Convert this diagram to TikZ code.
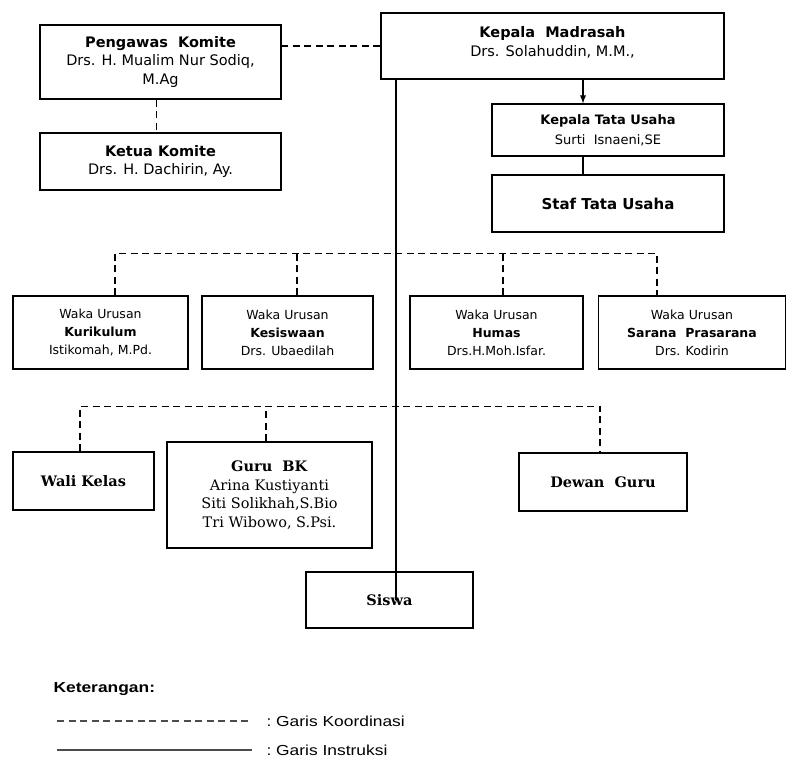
\documentclass[tikz,border=0pt]{standalone}
\usepackage{fontspec}
\setmainfont{DejaVu Sans}
\newfontfamily\serifbox{DejaVu Serif}
\newfontfamily\legendfont[FakeStretch=1.2]{Liberation Sans}
\usetikzlibrary{calc,arrows}

\begin{document}
\begin{tikzpicture}[x=1pt,y=-1pt,
  box/.style={draw,line width=1.3pt,align=center,inner sep=2pt},
  sans/.style={font=\fontsize{14.5}{18.5}\selectfont},
  waka/.style={font=\fontsize{12.5}{18}\selectfont},
  serif/.style={font=\serifbox\fontsize{14.5}{18.5}\selectfont},
  koord/.style={line width=1.4pt,dash pattern=on 7pt off 4.5pt},
  instr/.style={line width=1.5pt}]
  \useasboundingbox (0,0) rectangle (787,762);
  % atas
  \node[box,sans,minimum width=241pt,minimum height=74pt](pengawas)at(160.5,62)
    {\textbf{Pengawas\ \ Komite}\\Drs. H. Mualim Nur Sodiq,\\M.Ag};
  \node[box,sans,minimum width=241pt,minimum height=57pt](ketua)at(160.5,161.5)
    {\textbf{Ketua Komite}\\Drs. H. Dachirin, Ay.};
  \node[box,sans,minimum width=343pt,minimum height=66pt,text depth=9pt](kepala)at(552.5,46)
    {\textbf{Kepala\ \ Madrasah}\\Drs. Solahuddin, M.M.,};
  \node[box,font=\fontsize{13}{20}\selectfont,minimum width=232pt,minimum height=52pt](ktu)at(608,130)
    {\textbf{Kepala Tata Usaha}\\Surti\ \ Isnaeni,SE};
  \node[box,font=\bfseries\fontsize{15}{16}\selectfont,minimum width=232pt,minimum height=57pt](staf)at(608,203.5)
    {Staf Tata Usaha};
  % waka
  \node[box,waka,minimum width=175pt,minimum height=73pt](kurikulum)at(100.5,332.5)
    {Waka Urusan\\{\fontsize{12.5}{18}\selectfont\textbf{Kurikulum}}\\Istikomah, M.Pd.};
  \node[box,waka,minimum width=171pt,minimum height=73pt](kesiswaan)at(287.5,332.5)
    {Waka Urusan\\{\fontsize{12.5}{18}\selectfont\textbf{Kesiswaan}}\\Drs. Ubaedilah};
  \node[box,waka,minimum width=173pt,minimum height=73pt](humas)at(496.5,332.5)
    {Waka Urusan\\{\fontsize{12.5}{18}\selectfont\textbf{Humas}}\\Drs.H.Moh.Isfar.};
  \node[box,waka,minimum width=187pt,minimum height=73pt](sarana)at(692,332.5)
    {Waka Urusan\\{\fontsize{12.5}{18}\selectfont\textbf{Sarana\ \ Prasarana}}\\Drs. Kodirin};
  % guru
  \node[box,serif,minimum width=141pt,minimum height=58pt](wali)at(83.5,481)
    {\textbf{Wali Kelas}};
  \node[box,serif,minimum width=205pt,minimum height=106pt](gurubk)at(269.5,495)
    {\textbf{Guru\ \ BK}\\Arina Kustiyanti\\Siti Solikhah,S.Bio\\Tri Wibowo, S.Psi.};
  \node[box,serif,minimum width=168pt,minimum height=58pt](dewan)at(603,482)
    {\textbf{Dewan\ \ Guru}};
  \node[box,serif,minimum width=167pt,minimum height=56pt](siswa)at(389.5,600)
    {\textbf{Siswa}};
  % garis
  \draw[koord](kepala.west)--(kepala.west-|pengawas.east);
  \draw[koord]([xshift=-4pt]pengawas.south)--([xshift=-4pt]ketua.north);
  \draw[instr,-latex,line width=1.7pt]($(kepala.south)+(30.5,0)$)--($(ktu.north)+(-25,0)$);
  \draw[instr]($(ktu.south)+(-25,0)$)--($(staf.north)+(-25,0)$);
  \coordinate(instr)at($(kepala.south west)+(15.5,0)$);
  \draw[instr](instr)--(instr|-siswa.center);
  \draw[koord]([xshift=14.5pt]kurikulum.north)--++(0,-42)-|([xshift=-35pt]sarana.north);
  \draw[koord]([xshift=9.5pt]kesiswaan.north)--++(0,-42);
  \draw[koord]([xshift=6.5pt]humas.north)--++(0,-42);
  \draw[koord]([xshift=-3.5pt]wali.north)--++(0,-45)-|([xshift=-3pt]dewan.north);
  \draw[koord]([xshift=-3.5pt]gurubk.north)--++(0,-35);
  % keterangan
  \node[anchor=west,font=\legendfont\bfseries\fontsize{14.5}{16}\selectfont](ket)at(50,689){Keterangan:};
  \coordinate(k1)at(57,721);
  \coordinate(i1)at(57,750);
  \node[anchor=west,font=\legendfont\fontsize{14.5}{16}\selectfont](koordket)at(263,721){:\ Garis Koordinasi};
  \node[anchor=west,font=\legendfont\fontsize{14.5}{16}\selectfont](instrket)at(263,750){:\ Garis Instruksi};
  \draw[koord,line width=1.1pt,gray!60!black,shorten >=11pt](k1)--(k1-|koordket.west);
  \draw[instr,line width=1.1pt,gray!60!black,shorten >=11pt](i1)--(i1-|instrket.west);
\end{tikzpicture}
\end{document}
